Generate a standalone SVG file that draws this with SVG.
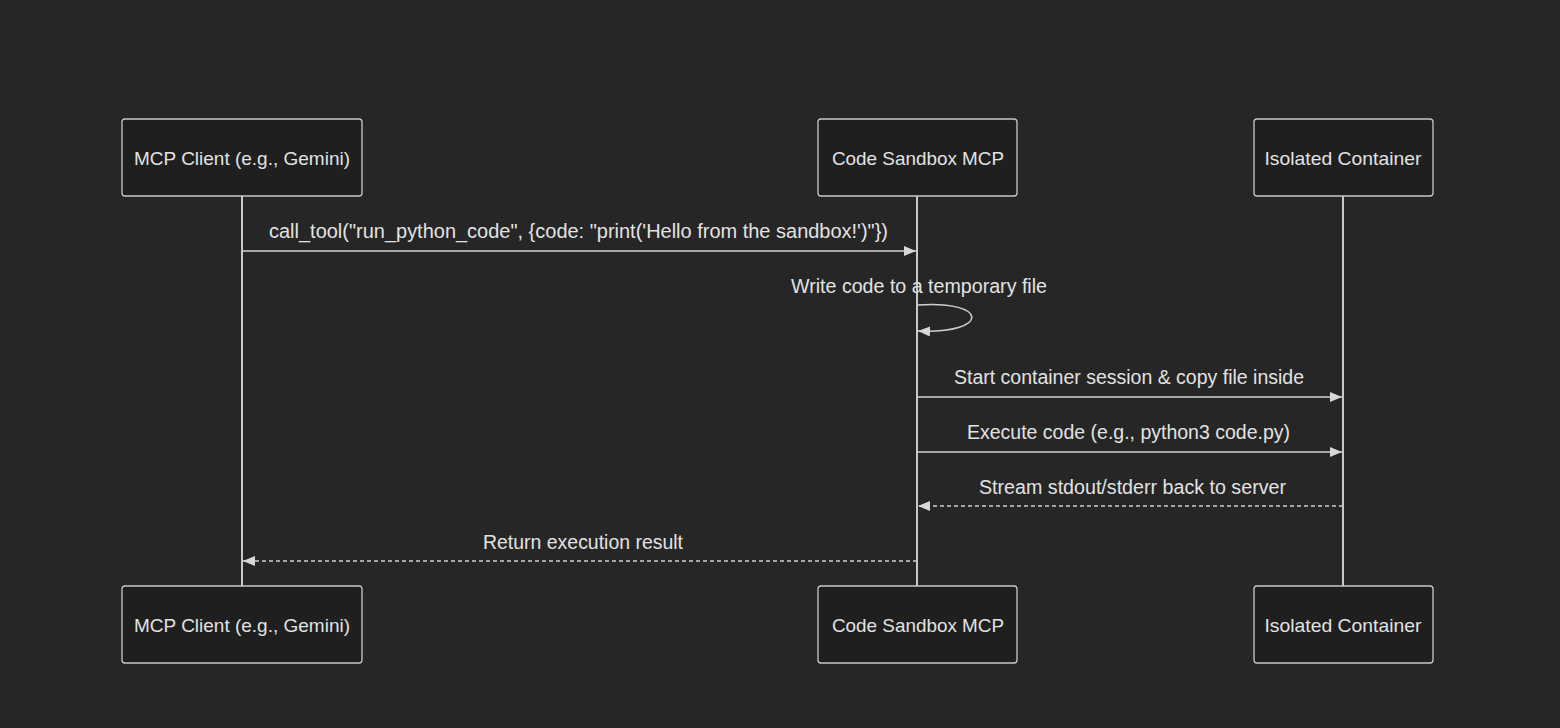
<svg xmlns="http://www.w3.org/2000/svg" width="1560" height="728" viewBox="0 0 1560 728">
<style>
.bg{fill:#262626}
.box{fill:#1f1f1f;stroke:#c8c8c8;stroke-width:1.3}
.life{stroke:#c8c8c8;stroke-width:2}
.t{font-family:"Liberation Sans",Arial,sans-serif;font-size:19px;fill:#e2e2e2;text-anchor:middle}
.m{font-size:19.5px}
.msg{stroke:#d0d0d0;stroke-width:1.5;fill:none}
.dash{stroke-dasharray:4 3}
</style>
<defs>
<marker id="ah" viewBox="0 0 12 10" refX="12" refY="5" markerWidth="12" markerHeight="10" markerUnits="userSpaceOnUse" orient="auto">
<path d="M0,0 L12,5 L0,10 Z" fill="#d8d8d8"/>
</marker>
</defs>
<rect class="bg" x="0" y="0" width="1560" height="728"/>
<g id="lifelines">
<line class="life" x1="242" y1="196" x2="242" y2="586"/>
<line class="life" x1="917" y1="196" x2="917" y2="586"/>
<line class="life" x1="1343" y1="196" x2="1343" y2="586"/>
</g>
<g id="client-top"><rect class="box" x="122" y="119" width="240" height="77" rx="3"/><text class="t" x="242" y="165" textLength="216" lengthAdjust="spacingAndGlyphs">MCP Client (e.g., Gemini)</text></g>
<g id="sandbox-top"><rect class="box" x="818" y="119" width="199" height="77" rx="3"/><text class="t" x="918" y="165" textLength="172" lengthAdjust="spacingAndGlyphs">Code Sandbox MCP</text></g>
<g id="container-top"><rect class="box" x="1254" y="119" width="179" height="77" rx="3"/><text class="t" x="1343" y="165" textLength="157" lengthAdjust="spacingAndGlyphs">Isolated Container</text></g>
<g id="client-bottom"><rect class="box" x="122" y="586" width="240" height="77" rx="3"/><text class="t" x="242" y="632" textLength="216" lengthAdjust="spacingAndGlyphs">MCP Client (e.g., Gemini)</text></g>
<g id="sandbox-bottom"><rect class="box" x="818" y="586" width="199" height="77" rx="3"/><text class="t" x="918" y="632" textLength="172" lengthAdjust="spacingAndGlyphs">Code Sandbox MCP</text></g>
<g id="container-bottom"><rect class="box" x="1254" y="586" width="179" height="77" rx="3"/><text class="t" x="1343" y="632" textLength="157" lengthAdjust="spacingAndGlyphs">Isolated Container</text></g>
<g id="connectors">
<line class="msg" x1="242" y1="251" x2="916" y2="251" marker-end="url(#ah)"/>
<path class="msg" d="M917,305 C990,300 990,334 918,331" marker-end="url(#ah)"/>
<line class="msg" x1="917" y1="397" x2="1342" y2="397" marker-end="url(#ah)"/>
<line class="msg" x1="917" y1="452" x2="1342" y2="452" marker-end="url(#ah)"/>
<line class="msg dash" x1="1343" y1="506" x2="918" y2="506" marker-end="url(#ah)"/>
<line class="msg dash" x1="917" y1="561" x2="243" y2="561" marker-end="url(#ah)"/>
</g>
<g id="labels">
<text class="t m" x="578.5" y="238" textLength="619" lengthAdjust="spacingAndGlyphs">call_tool("run_python_code", {code: "print('Hello from the sandbox!')"})</text>
<text class="t m" x="919" y="293" textLength="256" lengthAdjust="spacingAndGlyphs">Write code to a temporary file</text>
<text class="t m" x="1129" y="384" textLength="350" lengthAdjust="spacingAndGlyphs">Start container session &amp; copy file inside</text>
<text class="t m" x="1128.5" y="439" textLength="323" lengthAdjust="spacingAndGlyphs">Execute code (e.g., python3 code.py)</text>
<text class="t m" x="1132.5" y="494" textLength="307" lengthAdjust="spacingAndGlyphs">Stream stdout/stderr back to server</text>
<text class="t m" x="583" y="549" textLength="200" lengthAdjust="spacingAndGlyphs">Return execution result</text>
</g>
</svg>
